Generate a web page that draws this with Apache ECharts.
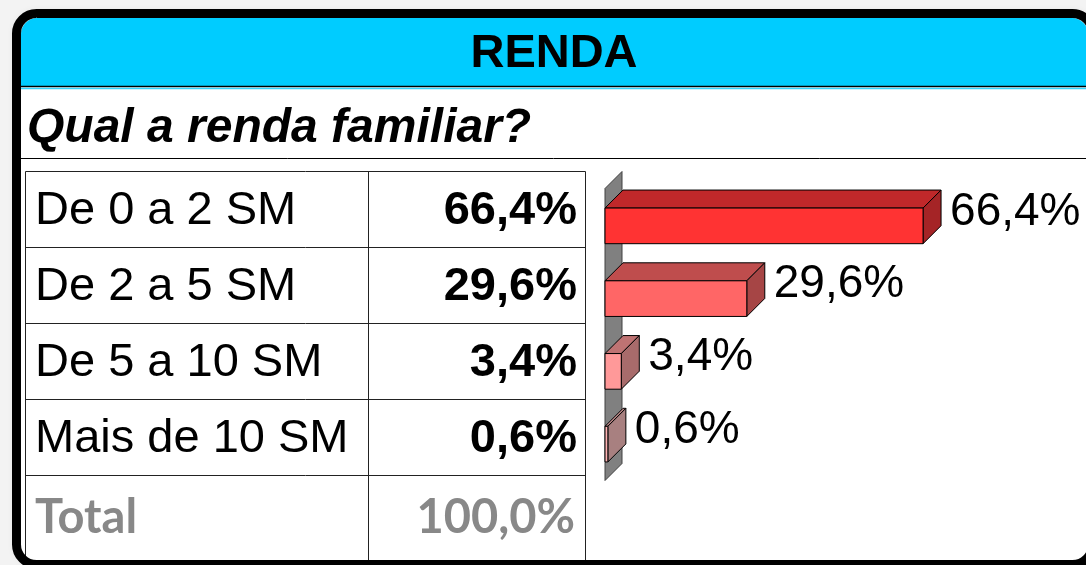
<!DOCTYPE html>
<html>
<head>
<meta charset="utf-8">
<script src="https://cdn.jsdelivr.net/npm/echarts@6/dist/echarts.min.js"></script>
<style>
  html, body { margin: 0; padding: 0; background: #f3f3f3; }
  #chart { width: 1086px; height: 565px; }
</style>
</head>
<body>
<div id="chart"></div>
<script>
// dados da pesquisa
const titleText = 'RENDA';
const questionText = 'Qual a renda familiar?';
const categories = ['De 0 a 2 SM', 'De 2 a 5 SM', 'De 5 a 10 SM', 'Mais de 10 SM'];
const values = [66.4, 29.6, 3.4, 0.6];
const totalLabel = 'Total';
const totalValue = 100.0;

// cores das barras (frente, topo, lateral)
const frontColors = ['#ff3333', '#ff6666', '#ff9999', '#ffb3b3'];
const topColors = ['#c0282a', '#bf4d4d', '#bf7373', '#bf8a8a'];
const sideColors = ['#a52426', '#a64545', '#a86b6b', '#a88080'];

const DEPTH = 18;
const FONT = 'Arial, "Liberation Sans", sans-serif';

function fmt(v) {
  return v.toFixed(1).replace('.', ',') + '%';
}

const chart = echarts.init(document.getElementById('chart'));

// tabela do lado esquerdo
const tableX = 25.5, tableY = 171.5, rowH = 76, colX = 368.5, tableR = 585.5;
const tableEls = [];
tableEls.push({
  type: 'rect', z: 5,
  shape: { x: tableX, y: tableY, width: tableR - tableX, height: 400 },
  style: { fill: null, stroke: '#222', lineWidth: 1 }
});
tableEls.push({
  type: 'line', z: 5,
  shape: { x1: colX, y1: tableY, x2: colX, y2: 565 },
  style: { stroke: '#222', lineWidth: 1 }
});
categories.forEach((name, i) => {
  const cy = tableY + rowH * i + rowH / 2 + 2;
  tableEls.push({
    type: 'line', z: 5,
    shape: { x1: tableX, y1: tableY + rowH * (i + 1), x2: tableR, y2: tableY + rowH * (i + 1) },
    style: { stroke: '#222', lineWidth: 1 }
  });
  tableEls.push({
    type: 'text', z: 6, x: 35, y: cy,
    style: { text: name, font: '47px ' + FONT, fill: '#000', verticalAlign: 'middle' }
  });
  tableEls.push({
    type: 'text', z: 6, x: 577, y: cy,
    style: { text: fmt(values[i]), font: 'bold 47px ' + FONT, fill: '#000', align: 'right', verticalAlign: 'middle' }
  });
});
const totalY = tableY + rowH * categories.length + 42;
tableEls.push({
  type: 'text', z: 6, x: 35, y: totalY,
  style: { text: totalLabel, font: 'bold 47px Lato, "Open Sans", sans-serif', fill: '#888', verticalAlign: 'middle' }
});
tableEls.push({
  type: 'text', z: 6, x: 575, y: totalY,
  style: { text: fmt(totalValue), font: 'bold 47px Lato, "Open Sans", sans-serif', fill: '#888', align: 'right', verticalAlign: 'middle' }
});

// parede cinza do eixo
function renderWall(params, api) {
  if (params.dataIndex !== 0) return null;
  const cs = params.coordSys;
  const d = DEPTH - 1;
  return {
    type: 'polygon',
    shape: {
      points: [
        [cs.x, cs.y - 1],
        [cs.x + d, cs.y - 1 - d],
        [cs.x + d, cs.y + cs.height - d],
        [cs.x, cs.y + cs.height]
      ]
    },
    style: { fill: '#808080', stroke: '#404040', lineWidth: 1 }
  };
}

// barras 3D
function renderBar(params, api) {
  const i = params.dataIndex;
  const idx = api.value(1);
  const v = api.value(0);
  const p0 = api.coord([0, idx]);
  const p1 = api.coord([v, idx]);
  const band = api.size([0, 1])[1];
  const h = band * 0.49;
  const x0 = p0[0], x1 = p1[0];
  const yt = p0[1] - h / 2, yb = p0[1] + h / 2;
  const d = DEPTH;
  const edge = { stroke: '#000', lineWidth: 1 };
  return {
    type: 'group',
    children: [
      {
        type: 'polygon',
        shape: { points: [[x0, yt], [x1, yt], [x1 + d, yt - d], [x0 + d, yt - d]] },
        style: Object.assign({ fill: topColors[i] }, edge)
      },
      {
        type: 'polygon',
        shape: { points: [[x1, yt], [x1 + d, yt - d], [x1 + d, yb - d], [x1, yb]] },
        style: Object.assign({ fill: sideColors[i] }, edge)
      },
      {
        type: 'rect',
        shape: { x: x0, y: yt, width: x1 - x0, height: h },
        style: Object.assign({ fill: frontColors[i] }, edge)
      },
      {
        type: 'text',
        x: x1 + d + 9,
        y: p0[1] - 14,
        style: { text: fmt(v), font: '46px ' + FONT, fill: '#000', verticalAlign: 'middle' }
      }
    ]
  };
}

const option = {
  backgroundColor: '#f3f3f3',
  animation: false,
  grid: { left: 605, top: 189.5, width: 479, height: 291 },
  xAxis: { type: 'value', min: 0, max: 100, show: false },
  yAxis: { type: 'category', data: categories, inverse: true, show: false },
  graphic: [
    // fundo branco do quadro
    {
      type: 'rect', z: 1,
      shape: { x: 16.5, y: 13.5, width: 1076, height: 551, r: 20 },
      style: { fill: '#fff', shadowBlur: 10, shadowColor: 'rgba(0,0,0,0.15)' }
    },
    // faixa azul do titulo
    {
      type: 'rect', z: 2,
      shape: { x: 21, y: 18, width: 1067, height: 68, r: [16, 16, 0, 0] },
      style: { fill: '#00ccff' }
    },
    {
      type: 'line', z: 3,
      shape: { x1: 21, y1: 86.5, x2: 1086, y2: 86.5 },
      style: { stroke: '#000', lineWidth: 1.5 }
    },
    {
      type: 'line', z: 3,
      shape: { x1: 21, y1: 88.5, x2: 1086, y2: 88.5 },
      style: { stroke: '#33d6ff', lineWidth: 1.5 }
    },
    {
      type: 'text', z: 4, x: 554, y: 54,
      style: { text: titleText, font: 'bold 47px ' + FONT, fill: '#000', align: 'center', verticalAlign: 'middle' }
    },
    {
      type: 'text', z: 4, x: 27, y: 129,
      style: { text: questionText, font: 'italic bold 48px ' + FONT, fill: '#000', verticalAlign: 'middle' }
    },
    {
      type: 'line', z: 3,
      shape: { x1: 21, y1: 158.5, x2: 1086, y2: 158.5 },
      style: { stroke: '#000', lineWidth: 1 }
    },
    ...tableEls,
    // borda preta arredondada
    {
      type: 'rect', z: 100,
      shape: { x: 16.5, y: 13.5, width: 1076, height: 551, r: 20 },
      style: { fill: null, stroke: '#000', lineWidth: 9 }
    }
  ],
  series: [
    {
      type: 'custom',
      z: 10,
      renderItem: renderWall,
      data: [[0, 0]],
      encode: { x: 0, y: 1 },
      silent: true
    },
    {
      type: 'custom',
      z: 11,
      renderItem: renderBar,
      data: values.map((v, i) => [v, i]),
      encode: { x: 0, y: 1 }
    }
  ]
};

chart.setOption(option);
</script>
</body>
</html>
